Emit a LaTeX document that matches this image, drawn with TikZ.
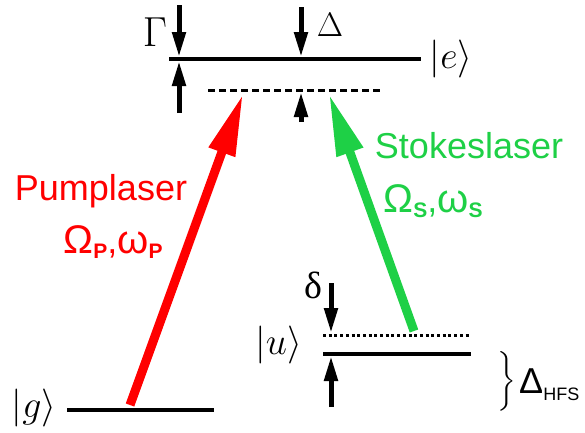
\RequirePackage{fix-cm}
\documentclass[tikz,border=0pt]{standalone}
\usepackage{fontspec}
\usepackage{amsmath}
\usepackage{xcolor}
\usetikzlibrary{arrows.meta}
\newfontfamily\arialfont{Liberation Sans}
\newfontfamily\timesfont{Liberation Serif}
\definecolor{stokesgreen}{RGB}{30,208,70}

\begin{document}
\begin{tikzpicture}[x=1pt,y=-1pt,
    level/.style={line width=4pt},
    gaparrow/.style={line width=5pt,-{Triangle[length=25pt,width=13pt]}},
    laser/.style={line width=9pt,-{Triangle[length=62pt,width=26pt]}},
    ket/.style={font=\fontsize{38}{42}\selectfont},
    lasertext/.style={font=\arialfont\fontsize{36}{40}\selectfont}]
    \useasboundingbox (0,0) rectangle (585,432);

    % Level end points
    \coordinate (e1) at (169,59);  \coordinate (e2) at (421,59);
    \coordinate (v1) at (208,90);  \coordinate (v2) at (382,90);
    \coordinate (s1) at (323,335); \coordinate (s2) at (471,335);
    \coordinate (u1) at (323,354); \coordinate (u2) at (471,354);
    \coordinate (g1) at (67,410);  \coordinate (g2) at (214,410);

    % Levels
    \draw[level] (e1) -- (e2);
    \draw[level] (u1) -- (u2);
    \draw[level] (g1) -- (g2);
    \draw[line width=3pt, dash pattern=on 7pt off 4pt] (v1) -- (v2);
    \draw[line width=3pt, dash pattern=on 3pt off 2.7pt] (s1) -- (s2);

    % Level labels
    \node[ket] (eket) at (451,59) {$|e\rangle$};
    \node[ket, anchor=east, inner sep=0pt] (uket) at (302,345) {$|u\rangle$};
    \node[ket] (gket) at (34,408) {$|g\rangle$};

    % Linewidth Gamma
    \coordinate (gtop) at (179,5);   \coordinate (gtip) at (179,57);
    \coordinate (gbot) at (179,113); \coordinate (gtipb) at (179,61);
    \draw[gaparrow] (gtop) -- (gtip);
    \draw[gaparrow] (gbot) -- (gtipb);
    \node[font=\fontsize{42}{46}\selectfont] (gamma) at (155,32) {$\Gamma$};

    % Detuning Delta
    \coordinate (dtop) at (301,7);   \coordinate (dtip) at (301,57);
    \coordinate (dbot) at (301,122); \coordinate (dtipb) at (301,92);
    \draw[gaparrow] (dtop) -- (dtip);
    \draw[gaparrow] (dbot) -- (dtipb);
    \node[font=\fontsize{34}{38}\selectfont] (delta) at (330,25) {$\Delta$};

    % Two-photon detuning delta
    \coordinate (stop) at (331,283); \coordinate (stip) at (331,333);
    \coordinate (sbot) at (331,407); \coordinate (stipb) at (331,356);
    \draw[gaparrow] (stop) -- (stip);
    \draw[gaparrow] (sbot) -- (stipb);
    \node[font=\timesfont\fontsize{38}{42}\selectfont] (smalldelta) at (313,285) {δ};

    % Lasers
    \coordinate (ptail) at (130,405); \coordinate (ptip) at (243,94);
    \coordinate (stail) at (414,331); \coordinate (stokestip) at (329,94);
    \draw[laser, red] (ptail) -- (ptip);
    \draw[laser, stokesgreen] (stail) -- (stokestip);

    \node[lasertext, red, anchor=base] (pump) at (101,200) {Pumplaser};
    \node[lasertext, red, anchor=base] (pumpfreq) at (113,253)
        {{\fontsize{40}{44}\selectfont Ω}\raisebox{-5pt}{\fontsize{21}{24}\selectfont\bfseries P},{\fontsize{40}{44}\selectfont ω}\raisebox{-5pt}{\fontsize{21}{24}\selectfont\bfseries P}};
    \node[lasertext, stokesgreen, anchor=base] (stokes) at (469,158) {Stokeslaser};
    \node[lasertext, stokesgreen, anchor=base] (stokesfreq) at (433,212)
        {{\fontsize{40}{44}\selectfont Ω}\raisebox{-5pt}{\fontsize{21}{24}\selectfont\bfseries S},{\fontsize{40}{44}\selectfont ω}\raisebox{-5pt}{\fontsize{21}{24}\selectfont\bfseries S}};

    % Hyperfine splitting
    \node[font=\fontsize{32}{36}\selectfont] (brace) at (507,381) {$\Big\}$};
    \node[anchor=base west, inner sep=0pt, font=\arialfont\fontsize{36}{40}\selectfont] (hfs) at (519,393)
        {Δ\raisebox{-7pt}{\fontsize{18}{21}\selectfont HFS}};
\end{tikzpicture}
\end{document}
